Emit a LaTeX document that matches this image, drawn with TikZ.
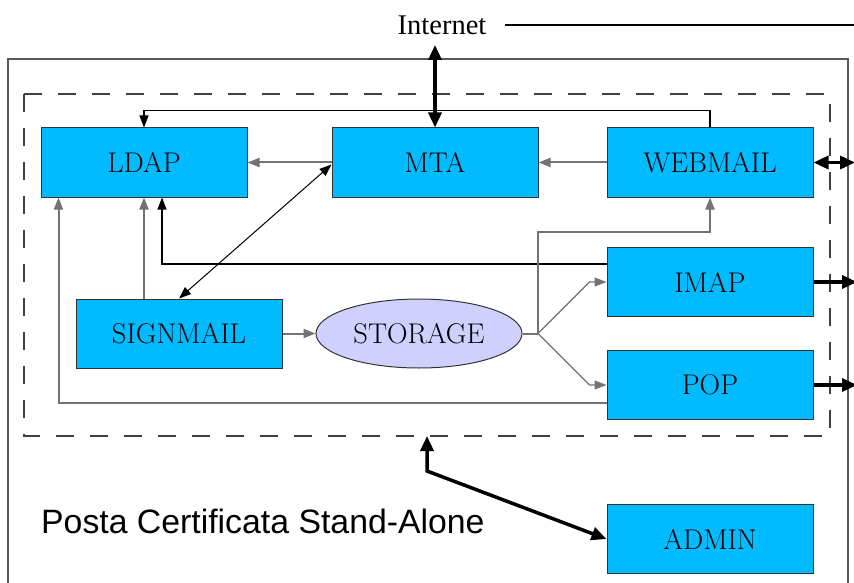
\documentclass[tikz,border=0pt]{standalone}
\usepackage{fontspec}
\newfontfamily\sansf{Liberation Sans}
\newfontfamily\timesf{Liberation Serif}
\usetikzlibrary{arrows.meta,shapes.geometric,calc}
\definecolor{boxblue}{RGB}{0,187,255}
\definecolor{storagec}{RGB}{208,208,255}
\definecolor{lgray}{RGB}{115,115,115}
\begin{document}
\begin{tikzpicture}[x=1pt,y=-1pt,
  blk/.style={draw=black!80, line width=1pt, fill=boxblue, minimum width=206pt, minimum height=69pt, inner sep=0pt, font=\fontsize{28.5}{30}\selectfont},
  stor/.style={ellipse, draw=black!80, line width=1pt, fill=storagec, minimum width=206pt, minimum height=69pt, inner sep=0pt, font=\fontsize{28.5}{30}\selectfont},
  gline/.style={draw=lgray, line width=2pt, -{Triangle[length=12pt,width=9pt]}},
  bline/.style={draw=black, line width=1.1pt, -{Triangle[length=12pt,width=9pt]}},
  thk/.style={draw=black, line width=3.5pt, -{Triangle[length=15pt,width=13pt]}},
  thkboth/.style={draw=black, line width=3.5pt, {Triangle[length=15pt,width=13pt]}-{Triangle[length=15pt,width=13pt]}}
]
\useasboundingbox (0,0) rectangle (854,583);
% outer frame
\draw[draw=black!65, line width=1.4pt] (8,600) -- (8,59) -- (848,59) -- (848,600);
% dashed frame
\draw[draw=black!75, line width=1.3pt, dash pattern=on 18pt off 16pt] (24,94) rectangle (830,436);

% Internet
\node[font=\timesf\fontsize{28.5}{30}\selectfont, inner sep=0pt] (inet) at (442,25) {Internet};
\coordinate (inetl) at (505,25);
\coordinate (inetr) at (856,25);
\draw[line width=2.5pt] (inetl) -- (inetr);
\coordinate (inetarr) at (435,45);

% nodes
\node[blk] (ldap) at (144,162.5) {LDAP};
\node[blk] (mta) at (435,162.5) {MTA};
\node[blk] (webmail) at (710,162.5) {WEBMAIL};
\node[blk] (imap) at (710,282) {IMAP};
\node[blk] (pop) at (710,385) {POP};
\node[blk] (signmail) at (179,333.5) {SIGNMAIL};
\node[stor] (storage) at (419,333.5) {STORAGE};
\node[blk] (admin) at (710,539) {ADMIN};

\node[font=\sansf\fontsize{33.8}{35}\selectfont, anchor=west, inner sep=0pt] (title) at (41,521) {Posta Certificata Stand-Alone};

% Internet <-> MTA
\draw[thkboth] (inetarr) -- (mta.north);

% WEBMAIL top -> LDAP top
\draw[bline] (webmail.north) -- ++(0,-17) -| (ldap.north);
% MTA -> LDAP
\draw[gline] (mta.west) -- (ldap.east);
% WEBMAIL -> MTA
\draw[gline] (webmail.west) -- (mta.east);
% SIGNMAIL <-> MTA
\draw[draw=black, line width=1pt, {Triangle[length=12pt,width=9pt]}-{Triangle[length=12pt,width=9pt]}] (signmail.north) -- ($(mta.west)+(0,2)$);
% SIGNMAIL -> LDAP
\draw[gline] (ldap.south |- signmail.north) -- (ldap.south);
% IMAP -> LDAP
\draw[bline] ($(imap.north west)+(0,17)$) -| ($(ldap.south)+(18,0)$);
% POP -> LDAP
\draw[gline] ($(pop.south west)+(0,-17)$) -| ($(ldap.south west)+(18,0)$);
% SIGNMAIL -> STORAGE
\draw[gline] (signmail.east) -- (storage.west);
% STORAGE branches
\coordinate (j) at (538,333.5);
\draw[draw=lgray, line width=2pt] (storage.east) -- (j);
\draw[gline] (j) |- ($(webmail.south)+(0,34)$) -- (webmail.south);
\draw[draw=lgray, line width=1.4pt, -{Triangle[length=12pt,width=9pt]}] (j) -- ($(imap.west)+(-17,0)$) -- (imap.west);
\draw[draw=lgray, line width=1.4pt, -{Triangle[length=12pt,width=9pt]}] (j) -- ($(pop.west)+(-17,0)$) -- (pop.west);

% outward thick arrows
\coordinate (wout) at (855,162.5);
\coordinate (iout) at (857,282);
\coordinate (pout) at (857,385);
\draw[thkboth] (webmail.east) -- (wout);
\draw[thk] (imap.east) -- (iout);
\draw[thk] (pop.east) -- (pout);

% ADMIN <-> dashed frame
\coordinate (abend) at (427,471);
\coordinate (adash) at (427,436);
\draw[thkboth] (admin.west) -- (abend) -- (adash);
\end{tikzpicture}
\end{document}
